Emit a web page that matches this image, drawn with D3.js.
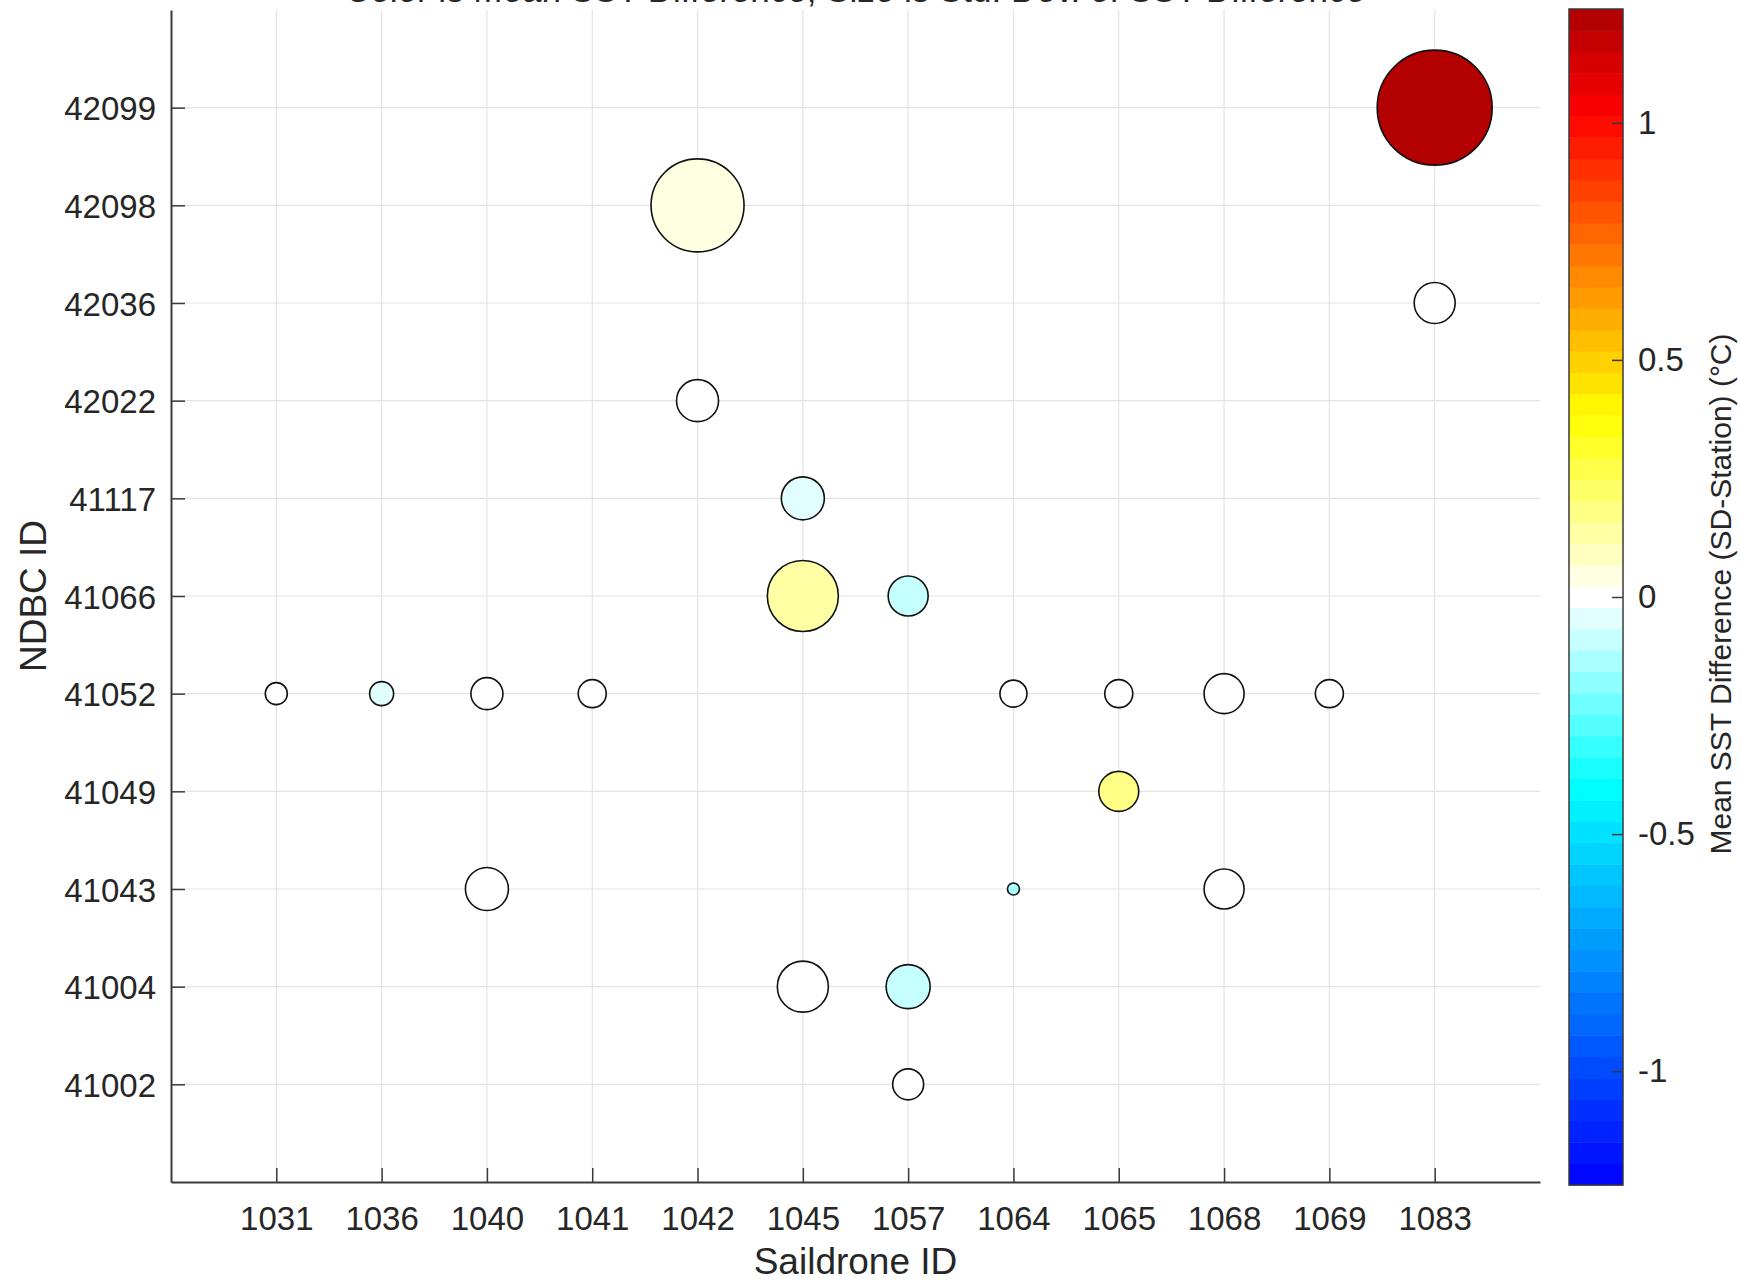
<!DOCTYPE html>
<html>
<head>
<meta charset="utf-8">
<script src="https://cdn.jsdelivr.net/npm/d3@7"></script>
<style>
  html, body { margin: 0; padding: 0; background: #ffffff; }
  svg { display: block; }
  text { font-family: "Liberation Sans", Arial, Helvetica, sans-serif; fill: #262626; }
</style>
</head>
<body>
<svg id="chart" width="1741" height="1283"></svg>
<script>
// ---------- data ----------
const saildroneIds = ["1031","1036","1040","1041","1042","1045","1057","1064","1065","1068","1069","1083"];
const ndbcIds = ["41002","41004","41043","41049","41052","41066","41117","42022","42036","42098","42099"]; // bottom -> top

const pointSaildrone = ["1083","1042","1083","1042","1045","1045","1057","1031","1036","1040","1041","1064","1065","1068","1069","1065","1040","1064","1068","1045","1057","1057"];
const pointNdbc      = ["42099","42098","42036","42022","41117","41066","41066","41052","41052","41052","41052","41052","41052","41052","41052","41049","41043","41043","41043","41004","41004","41002"];
const meanSstDiff    = [1.22, 0.05, 0.00, 0.00, -0.04, 0.12, -0.10, 0.01, -0.05, 0.00, 0.00, 0.00, 0.00, 0.00, 0.00, 0.16, 0.00, -0.14, 0.00, 0.00, -0.08, 0.00];
const stdSstDiff     = [1.15, 0.93, 0.41, 0.42, 0.43, 0.71, 0.40, 0.22, 0.24, 0.32, 0.28, 0.27, 0.28, 0.40, 0.28, 0.40, 0.43, 0.12, 0.40, 0.51, 0.44, 0.31];

const colorbarTicks = [-1, -0.5, 0, 0.5, 1];
const colorLimits = [-1.24, 1.24];
const colormapStops = [-1.24, -0.40, 0, 0.38, 1.02, 1.24];
const colormapColors = ["#0000ff", "#00ffff", "#ffffff", "#ffff00", "#ff0000", "#aa0000"];
const nColorLevels = 55;

const titleText = "Color is Mean SST Difference, Size is Std. Dev. of SST Difference";
const xLabel = "Saildrone ID";
const yLabel = "NDBC ID";
const cbLabel = "Mean SST Difference (SD-Station) (°C)";

// ---------- layout ----------
const svg = d3.select("#chart");
const plot = { left: 171, right: 1540, top: 10, bottom: 1182 };
const cb = { left: 1569, right: 1623, top: 9, bottom: 1185 };

const x = d3.scalePoint().domain(saildroneIds).range([plot.left, plot.right]).padding(1);
const y = d3.scalePoint().domain(ndbcIds).range([plot.bottom, plot.top]).padding(1);
const r = d3.scaleLinear().domain([0, 1]).range([0, 50]);

const continuous = d3.scaleLinear().domain(colormapStops).range(colormapColors).interpolate(d3.interpolateRgb).clamp(true);
const bandW = (colorLimits[1] - colorLimits[0]) / nColorLevels;
const bandColors = d3.range(nColorLevels).map(i => continuous(colorLimits[0] + (i + 0.5) * bandW));
const color = d3.scaleQuantize().domain(colorLimits).range(bandColors);

// grid
const grid = svg.append("g");
grid.selectAll("line.gx").data(saildroneIds).join("line")
  .attr("x1", d => x(d)).attr("x2", d => x(d))
  .attr("y1", plot.top).attr("y2", plot.bottom)
  .attr("stroke", "#e3e3e3").attr("stroke-width", 1.2);
grid.selectAll("line.gy").data(ndbcIds).join("line")
  .attr("y1", d => y(d)).attr("y2", d => y(d))
  .attr("x1", plot.left).attr("x2", plot.right)
  .attr("stroke", "#e3e3e3").attr("stroke-width", 1.2);

// axes
const axStyle = g => {
  g.select(".domain").attr("stroke", "#3a3a3a").attr("stroke-width", 2);
  g.selectAll(".tick line").attr("stroke", "#3a3a3a").attr("stroke-width", 1.5);
  g.selectAll(".tick text").attr("fill", "#262626").style("font-size", "33px")
    .style("font-family", "'Liberation Sans', Arial, Helvetica, sans-serif");
};
svg.append("g").attr("transform", `translate(0,${plot.bottom})`)
  .call(d3.axisBottom(x).tickSizeInner(-14).tickSizeOuter(0).tickPadding(25))
  .call(axStyle);
svg.append("g").attr("transform", `translate(${plot.left},0)`)
  .call(d3.axisLeft(y).tickSizeInner(-14).tickSizeOuter(0).tickPadding(15))
  .call(axStyle)
  .call(g => g.selectAll(".tick text").attr("dy", "0.37em"));

// points
const points = pointSaildrone.map((s, i) => ({ s, n: pointNdbc[i], m: meanSstDiff[i], sd: stdSstDiff[i] }));
svg.append("g").selectAll("circle").data(points).join("circle")
  .attr("cx", d => x(d.s)).attr("cy", d => y(d.n)).attr("r", d => r(d.sd))
  .attr("fill", d => color(d.m))
  .attr("stroke", "#111111").attr("stroke-width", 1.6);

// colorbar
const cbY = d3.scaleLinear().domain(colorLimits).range([cb.bottom, cb.top]);
svg.append("g").selectAll("rect").data(bandColors).join("rect")
  .attr("x", cb.left).attr("width", cb.right - cb.left)
  .attr("y", (d, i) => cbY(colorLimits[0] + (i + 1) * bandW))
  .attr("height", (d, i) => cbY(colorLimits[0] + i * bandW) - cbY(colorLimits[0] + (i + 1) * bandW) + 0.5)
  .attr("fill", d => d);
svg.append("rect").attr("x", cb.left).attr("y", cb.top)
  .attr("width", cb.right - cb.left).attr("height", cb.bottom - cb.top)
  .attr("fill", "none").attr("stroke", "#3a3a3a").attr("stroke-width", 1.5);
svg.append("g").attr("transform", `translate(${cb.right},0)`)
  .call(d3.axisRight(cbY).tickValues(colorbarTicks).tickFormat(d => String(d))
        .tickSizeInner(-11).tickSizeOuter(0).tickPadding(15))
  .call(axStyle)
  .call(g => g.select(".domain").remove());

// labels
svg.append("text").attr("x", (plot.left + plot.right) / 2).attr("y", 1274)
  .attr("text-anchor", "middle").style("font-size", "37px").text(xLabel);
svg.append("text").attr("transform", `translate(46,${(plot.top + plot.bottom) / 2}) rotate(-90)`)
  .attr("text-anchor", "middle").style("font-size", "37px").text(yLabel);
svg.append("text").attr("transform", `translate(1731,594) rotate(-90)`)
  .attr("text-anchor", "middle").style("font-size", "30px").text(cbLabel);
// title: in the reference it lies almost entirely above the top edge
svg.append("text").attr("x", 855).attr("y", 2)
  .attr("text-anchor", "middle").style("font-size", "36px")
  .attr("textLength", 1020).attr("lengthAdjust", "spacingAndGlyphs")
  .text(titleText);
</script>
</body>
</html>
